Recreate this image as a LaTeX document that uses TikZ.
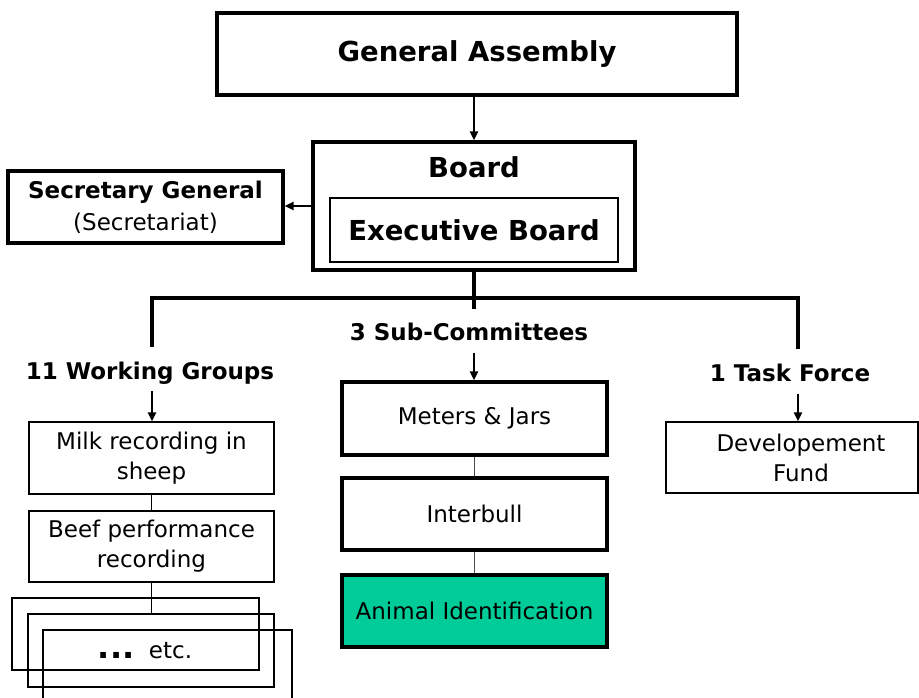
\documentclass[tikz,border=0pt]{standalone}
\usepackage{fontspec}
\setmainfont{DejaVu Sans}
\usetikzlibrary{arrows.meta}
\definecolor{teal1}{RGB}{0,204,153}
\begin{document}
\begin{tikzpicture}[x=1pt,y=-1pt,
  thickbox/.style={draw,line width=3.2pt,align=center,inner sep=0pt,font=\fontsize{23}{30}\selectfont},
  thinbox/.style={draw,line width=1.4pt,align=center,inner sep=0pt,font=\fontsize{23}{30}\selectfont},
  plain/.style={align=center,inner sep=0pt,font=\fontsize{23}{30}\selectfont},
  bigbold/.style={font=\fontsize{27.5}{33}\selectfont\bfseries},
  lab/.style={inner sep=0pt,minimum height=44pt,text height=21pt,text depth=1pt,font=\fontsize{23}{28}\selectfont\bfseries},
  arr/.style={line width=2.2pt,-{Triangle[length=9pt,width=8pt]}},
  bus/.style={line width=3.2pt},
  link/.style={line width=1.4pt,draw=black!70}
]
\useasboundingbox (0,0) rectangle (919,697);
% top
\node[thickbox,minimum width=520pt,minimum height=82pt,bigbold,text height=21pt,text depth=6pt] (ga) at (477,54) {General Assembly};
\node[thickbox,minimum width=322pt,minimum height=128pt] (board) at (474,206) {};
\node[bigbold,inner sep=0pt] (boardt) at (474,167) {Board};
\node[thinbox,minimum width=288pt,minimum height=64pt,bigbold] (exec) at (474,230) {Executive Board};
\node[thickbox,minimum width=275pt,minimum height=72pt,font=\fontsize{23}{32}\selectfont] (sec) at (145.5,207) {{\bfseries Secretary\ General}\\(Secretariat)};
% labels
\node[lab] (wg) at (150,369) {11 Working Groups};
\node[lab,text height=20pt,text depth=2pt] (sc) at (469,331) {3 Sub-Committees};
\node[lab] (tf) at (790,371.5) {1 Task Force};
% sub-committees
\node[thickbox,minimum width=265pt,minimum height=73pt] (meters) at (474.5,418.5) {Meters \& Jars};
\node[thickbox,minimum width=265pt,minimum height=72pt] (interbull) at (474.5,514) {Interbull};
\node[thickbox,minimum width=265pt,minimum height=72pt,fill=teal1] (animal) at (474.5,611) {Animal Identification};
% working groups
\node[thinbox,minimum width=245pt,minimum height=72pt] (milk) at (151.5,458) {Milk recording in\\sheep};
\node[thinbox,minimum width=245pt,minimum height=71pt] (beef) at (151.5,546.5) {Beef performance\\recording};
\node[thinbox,minimum width=247pt,minimum height=72pt] (etcA) at (135.5,634) {};
\node[thinbox,minimum width=246pt,minimum height=73pt] (etcB) at (151,650.5) {};
\node[thinbox,minimum width=249pt,minimum height=72pt] (etcC) at (167.5,666) {};
\node[plain] (etct) at (145,651) {{\bfseries\fontsize{32}{32}\selectfont...}\ \ etc.};
% task force
\node[thinbox,minimum width=252pt,minimum height=71pt] (dev) at (792,457.5) {};
\node[plain] (devt) at (801,458) {Developement\\Fund};
% connectors
\coordinate (busM) at (474,298);
\coordinate (busL) at (152,298);
\coordinate (busR) at (798,298);
\draw[arr] (board.north |- ga.south) -- (board.north);
\draw[arr] (board.west) -- (sec.east |- board.west);
\draw[bus] (board.south) -- (busM);
\draw[bus,line cap=rect] (busL) -- (busR);
\draw[bus] (busL) -- (busL |- wg.north);
\draw[bus] (busM) -- (busM |- sc.north);
\draw[bus] (busR) -- (busR |- tf.north);
\draw[arr] (busL |- wg.south) -- (busL |- milk.north);
\draw[arr] (busM |- sc.south) -- (busM |- meters.north);
\draw[arr] (busR |- tf.south) -- (busR |- dev.north);
\draw[line width=1.4pt] (milk.south) -- (beef.north);
\draw[line width=1.4pt] (beef.south) -- (beef.south |- etcB.north);
\draw[link] (meters.south) -- (interbull.north);
\draw[link] (interbull.south) -- (animal.north);
\end{tikzpicture}
\end{document}
